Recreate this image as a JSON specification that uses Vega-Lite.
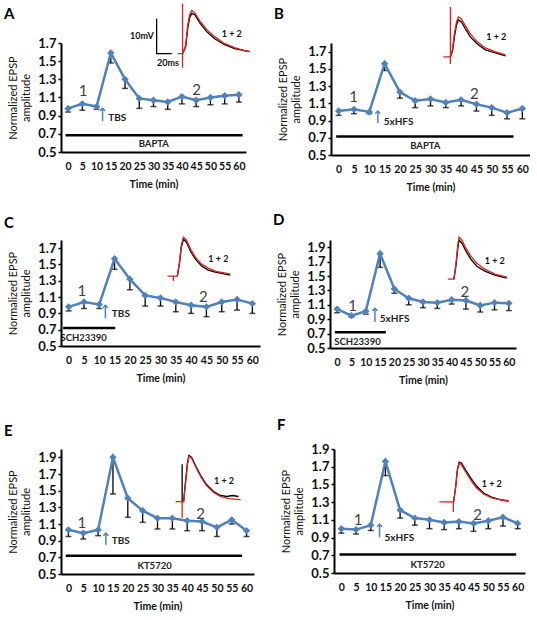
{
"$schema":"https://vega.github.io/schema/vega-lite/v6.json",
"padding":{"left":4,"top":0,"right":0,"bottom":0},
"background":"white",
"datasets":{
"series":[
{"p":"A","t":0,"v":0.98,"lo":0.94},{"p":"A","t":5,"v":1.03,"lo":0.96},{"p":"A","t":10,"v":1.0,"lo":0.97},{"p":"A","t":15,"v":1.59,"lo":1.48},{"p":"A","t":20,"v":1.3,"lo":1.2},{"p":"A","t":25,"v":1.09,"lo":0.98},{"p":"A","t":30,"v":1.07,"lo":1.0},{"p":"A","t":35,"v":1.05,"lo":0.97},{"p":"A","t":40,"v":1.11,"lo":1.03},{"p":"A","t":45,"v":1.07,"lo":1.0},{"p":"A","t":50,"v":1.1,"lo":1.02},{"p":"A","t":55,"v":1.12,"lo":1.03},{"p":"A","t":60,"v":1.13,"lo":1.05},
{"p":"B","t":0,"v":1.01,"lo":0.96},{"p":"B","t":5,"v":1.03,"lo":0.98},{"p":"B","t":10,"v":1.0,"lo":0.98},{"p":"B","t":15,"v":1.56,"lo":1.48},{"p":"B","t":20,"v":1.23,"lo":1.16},{"p":"B","t":25,"v":1.13,"lo":1.05},{"p":"B","t":30,"v":1.15,"lo":1.07},{"p":"B","t":35,"v":1.11,"lo":1.05},{"p":"B","t":40,"v":1.14,"lo":1.07},{"p":"B","t":45,"v":1.09,"lo":1.01},{"p":"B","t":50,"v":1.05,"lo":0.96},{"p":"B","t":55,"v":0.99,"lo":0.92},{"p":"B","t":60,"v":1.04,"lo":0.92},
{"p":"C","t":0,"v":0.98,"lo":0.93},{"p":"C","t":5,"v":1.04,"lo":0.96},{"p":"C","t":10,"v":1.01,"lo":0.96},{"p":"C","t":15,"v":1.57,"lo":1.44},{"p":"C","t":20,"v":1.32,"lo":1.19},{"p":"C","t":25,"v":1.12,"lo":0.99},{"p":"C","t":30,"v":1.09,"lo":0.99},{"p":"C","t":35,"v":1.04,"lo":0.92},{"p":"C","t":40,"v":1.0,"lo":0.9},{"p":"C","t":45,"v":0.98,"lo":0.86},{"p":"C","t":50,"v":1.04,"lo":0.92},{"p":"C","t":55,"v":1.07,"lo":0.94},{"p":"C","t":60,"v":1.02,"lo":0.9},
{"p":"D","t":0,"v":1.04,"lo":0.99},{"p":"D","t":5,"v":0.95,"lo":0.93},{"p":"D","t":10,"v":1.01,"lo":0.97},{"p":"D","t":15,"v":1.81,"lo":1.62},{"p":"D","t":20,"v":1.32,"lo":1.26},{"p":"D","t":25,"v":1.19,"lo":1.1},{"p":"D","t":30,"v":1.14,"lo":1.06},{"p":"D","t":35,"v":1.13,"lo":1.05},{"p":"D","t":40,"v":1.17,"lo":1.11},{"p":"D","t":45,"v":1.16,"lo":1.04},{"p":"D","t":50,"v":1.09,"lo":1.0},{"p":"D","t":55,"v":1.13,"lo":1.03},{"p":"D","t":60,"v":1.12,"lo":1.02},
{"p":"E","t":0,"v":1.03,"lo":0.95},{"p":"E","t":5,"v":0.99,"lo":0.92},{"p":"E","t":10,"v":1.03,"lo":0.96},{"p":"E","t":15,"v":1.9,"lo":1.46},{"p":"E","t":20,"v":1.41,"lo":1.18},{"p":"E","t":25,"v":1.26,"lo":1.12},{"p":"E","t":30,"v":1.17,"lo":1.04},{"p":"E","t":35,"v":1.17,"lo":1.04},{"p":"E","t":40,"v":1.14,"lo":1.02},{"p":"E","t":45,"v":1.13,"lo":1.02},{"p":"E","t":50,"v":1.06,"lo":0.95},{"p":"E","t":55,"v":1.15,"lo":1.1},{"p":"E","t":60,"v":1.02,"lo":0.95},
{"p":"F","t":0,"v":1.0,"lo":0.95},{"p":"F","t":5,"v":0.99,"lo":0.94},{"p":"F","t":10,"v":1.04,"lo":0.98},{"p":"F","t":15,"v":1.76,"lo":1.6},{"p":"F","t":20,"v":1.21,"lo":1.12},{"p":"F","t":25,"v":1.12,"lo":1.04},{"p":"F","t":30,"v":1.1,"lo":1.0},{"p":"F","t":35,"v":1.07,"lo":0.99},{"p":"F","t":40,"v":1.08,"lo":1.0},{"p":"F","t":45,"v":1.06,"lo":0.97},{"p":"F","t":50,"v":1.09,"lo":1.0},{"p":"F","t":55,"v":1.13,"lo":1.03},{"p":"F","t":60,"v":1.06,"lo":1.0}
],
"sweeps":[
{"p":"A","sweep":"1","i":1,"t":40.2,"v":1.582},{"p":"A","sweep":"1","i":2,"t":41.3,"v":1.659},{"p":"A","sweep":"1","i":3,"t":42.0,"v":1.858},{"p":"A","sweep":"1","i":4,"t":42.7,"v":1.979},{"p":"A","sweep":"1","i":5,"t":43.4,"v":2.023},{"p":"A","sweep":"1","i":6,"t":44.5,"v":2.012},{"p":"A","sweep":"1","i":7,"t":46.2,"v":1.924},{"p":"A","sweep":"1","i":8,"t":48.7,"v":1.825},{"p":"A","sweep":"1","i":9,"t":51.5,"v":1.747},{"p":"A","sweep":"1","i":10,"t":55.0,"v":1.681},{"p":"A","sweep":"1","i":11,"t":58.5,"v":1.637},{"p":"A","sweep":"1","i":12,"t":62.0,"v":1.615},{"p":"A","sweep":"1","i":13,"t":63.8,"v":1.604},
{"p":"A","sweep":"2","i":1,"t":38.5,"v":1.582},{"p":"A","sweep":"2","i":2,"t":40.2,"v":1.582},{"p":"A","sweep":"2","i":3,"t":40.2,"v":2.134},{"p":"A","sweep":"2","i":4,"t":40.2,"v":1.427},{"p":"A","sweep":"2","i":5,"t":40.2,"v":1.582},{"p":"A","sweep":"2","i":6,"t":41.3,"v":1.67},{"p":"A","sweep":"2","i":7,"t":42.0,"v":1.891},{"p":"A","sweep":"2","i":8,"t":42.7,"v":2.012},{"p":"A","sweep":"2","i":9,"t":43.4,"v":2.057},{"p":"A","sweep":"2","i":10,"t":44.5,"v":2.034},{"p":"A","sweep":"2","i":11,"t":46.2,"v":1.946},{"p":"A","sweep":"2","i":12,"t":48.7,"v":1.847},{"p":"A","sweep":"2","i":13,"t":51.5,"v":1.77},{"p":"A","sweep":"2","i":14,"t":55.0,"v":1.692},{"p":"A","sweep":"2","i":15,"t":58.5,"v":1.648},{"p":"A","sweep":"2","i":16,"t":62.0,"v":1.615},{"p":"A","sweep":"2","i":17,"t":63.8,"v":1.604},
{"p":"B","sweep":"1","i":1,"t":36.5,"v":1.638},{"p":"B","sweep":"1","i":2,"t":37.2,"v":1.708},{"p":"B","sweep":"1","i":3,"t":37.8,"v":1.871},{"p":"B","sweep":"1","i":4,"t":38.5,"v":2.01},{"p":"B","sweep":"1","i":5,"t":39.1,"v":2.068},{"p":"B","sweep":"1","i":6,"t":40.1,"v":2.045},{"p":"B","sweep":"1","i":7,"t":41.4,"v":1.964},{"p":"B","sweep":"1","i":8,"t":43.0,"v":1.871},{"p":"B","sweep":"1","i":9,"t":45.3,"v":1.789},{"p":"B","sweep":"1","i":10,"t":47.9,"v":1.72},{"p":"B","sweep":"1","i":11,"t":51.2,"v":1.685},{"p":"B","sweep":"1","i":12,"t":54.5,"v":1.65},
{"p":"B","sweep":"2","i":1,"t":34.2,"v":1.638},{"p":"B","sweep":"2","i":2,"t":36.5,"v":1.638},{"p":"B","sweep":"2","i":3,"t":36.5,"v":2.219},{"p":"B","sweep":"2","i":4,"t":36.5,"v":1.557},{"p":"B","sweep":"2","i":5,"t":36.5,"v":1.638},{"p":"B","sweep":"2","i":6,"t":37.2,"v":1.731},{"p":"B","sweep":"2","i":7,"t":37.8,"v":1.906},{"p":"B","sweep":"2","i":8,"t":38.5,"v":2.045},{"p":"B","sweep":"2","i":9,"t":39.1,"v":2.103},{"p":"B","sweep":"2","i":10,"t":40.1,"v":2.08},{"p":"B","sweep":"2","i":11,"t":41.4,"v":1.998},{"p":"B","sweep":"2","i":12,"t":43.0,"v":1.906},{"p":"B","sweep":"2","i":13,"t":45.3,"v":1.813},{"p":"B","sweep":"2","i":14,"t":47.9,"v":1.743},{"p":"B","sweep":"2","i":15,"t":51.2,"v":1.697},{"p":"B","sweep":"2","i":16,"t":54.5,"v":1.662},
{"p":"C","sweep":"1","i":1,"t":35.5,"v":1.357},{"p":"C","sweep":"1","i":2,"t":36.2,"v":1.516},{"p":"C","sweep":"1","i":3,"t":36.8,"v":1.712},{"p":"C","sweep":"1","i":4,"t":37.5,"v":1.81},{"p":"C","sweep":"1","i":5,"t":38.5,"v":1.773},{"p":"C","sweep":"1","i":6,"t":39.8,"v":1.663},{"p":"C","sweep":"1","i":7,"t":41.4,"v":1.565},{"p":"C","sweep":"1","i":8,"t":43.4,"v":1.48},{"p":"C","sweep":"1","i":9,"t":45.6,"v":1.431},{"p":"C","sweep":"1","i":10,"t":47.9,"v":1.406},{"p":"C","sweep":"1","i":11,"t":52.8,"v":1.37},
{"p":"C","sweep":"2","i":1,"t":32.3,"v":1.357},{"p":"C","sweep":"2","i":2,"t":34.2,"v":1.357},{"p":"C","sweep":"2","i":3,"t":34.2,"v":1.296},{"p":"C","sweep":"2","i":4,"t":34.2,"v":1.357},{"p":"C","sweep":"2","i":5,"t":35.5,"v":1.357},{"p":"C","sweep":"2","i":6,"t":36.2,"v":1.529},{"p":"C","sweep":"2","i":7,"t":36.8,"v":1.737},{"p":"C","sweep":"2","i":8,"t":37.5,"v":1.835},{"p":"C","sweep":"2","i":9,"t":38.5,"v":1.798},{"p":"C","sweep":"2","i":10,"t":39.8,"v":1.688},{"p":"C","sweep":"2","i":11,"t":41.4,"v":1.59},{"p":"C","sweep":"2","i":12,"t":43.4,"v":1.504},{"p":"C","sweep":"2","i":13,"t":45.6,"v":1.455},{"p":"C","sweep":"2","i":14,"t":47.9,"v":1.418},{"p":"C","sweep":"2","i":15,"t":52.8,"v":1.382},
{"p":"D","sweep":"1","i":1,"t":40.8,"v":1.456},{"p":"D","sweep":"1","i":2,"t":41.5,"v":1.636},{"p":"D","sweep":"1","i":3,"t":42.2,"v":1.9},{"p":"D","sweep":"1","i":4,"t":42.6,"v":1.997},{"p":"D","sweep":"1","i":5,"t":43.6,"v":1.955},{"p":"D","sweep":"1","i":6,"t":45.0,"v":1.845},{"p":"D","sweep":"1","i":7,"t":46.7,"v":1.734},{"p":"D","sweep":"1","i":8,"t":48.8,"v":1.636},{"p":"D","sweep":"1","i":9,"t":51.6,"v":1.567},{"p":"D","sweep":"1","i":10,"t":55.1,"v":1.512},{"p":"D","sweep":"1","i":11,"t":59.3,"v":1.47},
{"p":"D","sweep":"2","i":1,"t":38.7,"v":1.456},{"p":"D","sweep":"2","i":2,"t":40.8,"v":1.456},{"p":"D","sweep":"2","i":3,"t":41.5,"v":1.664},{"p":"D","sweep":"2","i":4,"t":42.2,"v":1.942},{"p":"D","sweep":"2","i":5,"t":42.6,"v":2.039},{"p":"D","sweep":"2","i":6,"t":43.6,"v":1.997},{"p":"D","sweep":"2","i":7,"t":45.0,"v":1.886},{"p":"D","sweep":"2","i":8,"t":46.7,"v":1.775},{"p":"D","sweep":"2","i":9,"t":48.8,"v":1.678},{"p":"D","sweep":"2","i":10,"t":51.6,"v":1.595},{"p":"D","sweep":"2","i":11,"t":55.1,"v":1.526},{"p":"D","sweep":"2","i":12,"t":59.3,"v":1.484},
{"p":"E","sweep":"1","i":1,"t":38.3,"v":1.369},{"p":"E","sweep":"1","i":2,"t":38.3,"v":1.816},{"p":"E","sweep":"1","i":3,"t":38.3,"v":1.369},{"p":"E","sweep":"1","i":4,"t":38.8,"v":1.369},{"p":"E","sweep":"1","i":5,"t":39.4,"v":1.598},{"p":"E","sweep":"1","i":6,"t":40.1,"v":1.84},{"p":"E","sweep":"1","i":7,"t":40.6,"v":1.924},{"p":"E","sweep":"1","i":8,"t":41.5,"v":1.9},{"p":"E","sweep":"1","i":9,"t":42.8,"v":1.803},{"p":"E","sweep":"1","i":10,"t":44.5,"v":1.683},{"p":"E","sweep":"1","i":11,"t":46.5,"v":1.574},{"p":"E","sweep":"1","i":12,"t":48.9,"v":1.49},{"p":"E","sweep":"1","i":13,"t":51.2,"v":1.442},{"p":"E","sweep":"1","i":14,"t":53.3,"v":1.43},{"p":"E","sweep":"1","i":15,"t":55.3,"v":1.442},{"p":"E","sweep":"1","i":16,"t":57.3,"v":1.43},
{"p":"E","sweep":"2","i":1,"t":36.1,"v":1.369},{"p":"E","sweep":"2","i":2,"t":38.3,"v":1.369},{"p":"E","sweep":"2","i":3,"t":38.3,"v":1.176},{"p":"E","sweep":"2","i":4,"t":38.3,"v":1.369},{"p":"E","sweep":"2","i":5,"t":38.8,"v":1.369},{"p":"E","sweep":"2","i":6,"t":39.4,"v":1.574},{"p":"E","sweep":"2","i":7,"t":40.1,"v":1.816},{"p":"E","sweep":"2","i":8,"t":40.6,"v":1.912},{"p":"E","sweep":"2","i":9,"t":41.5,"v":1.888},{"p":"E","sweep":"2","i":10,"t":42.8,"v":1.791},{"p":"E","sweep":"2","i":11,"t":44.5,"v":1.671},{"p":"E","sweep":"2","i":12,"t":46.5,"v":1.562},{"p":"E","sweep":"2","i":13,"t":48.9,"v":1.478},{"p":"E","sweep":"2","i":14,"t":51.2,"v":1.43},{"p":"E","sweep":"2","i":15,"t":53.9,"v":1.405},{"p":"E","sweep":"2","i":16,"t":58.0,"v":1.393},
{"p":"F","sweep":"1","i":1,"t":38.2,"v":1.302},{"p":"F","sweep":"1","i":2,"t":38.9,"v":1.471},{"p":"F","sweep":"1","i":3,"t":39.5,"v":1.674},{"p":"F","sweep":"1","i":4,"t":40.1,"v":1.753},{"p":"F","sweep":"1","i":5,"t":40.9,"v":1.742},{"p":"F","sweep":"1","i":6,"t":42.3,"v":1.663},{"p":"F","sweep":"1","i":7,"t":44.0,"v":1.573},{"p":"F","sweep":"1","i":8,"t":46.0,"v":1.482},{"p":"F","sweep":"1","i":9,"t":48.4,"v":1.403},{"p":"F","sweep":"1","i":10,"t":51.1,"v":1.358},{"p":"F","sweep":"1","i":11,"t":54.6,"v":1.324},{"p":"F","sweep":"1","i":12,"t":56.9,"v":1.313},
{"p":"F","sweep":"2","i":1,"t":33.4,"v":1.302},{"p":"F","sweep":"2","i":2,"t":38.1,"v":1.302},{"p":"F","sweep":"2","i":3,"t":38.1,"v":1.189},{"p":"F","sweep":"2","i":4,"t":38.1,"v":1.302},{"p":"F","sweep":"2","i":5,"t":38.2,"v":1.302},{"p":"F","sweep":"2","i":6,"t":38.9,"v":1.471},{"p":"F","sweep":"2","i":7,"t":39.5,"v":1.663},{"p":"F","sweep":"2","i":8,"t":40.1,"v":1.742},{"p":"F","sweep":"2","i":9,"t":40.9,"v":1.719},{"p":"F","sweep":"2","i":10,"t":42.3,"v":1.64},{"p":"F","sweep":"2","i":11,"t":44.0,"v":1.55},{"p":"F","sweep":"2","i":12,"t":46.0,"v":1.46},{"p":"F","sweep":"2","i":13,"t":48.4,"v":1.392},{"p":"F","sweep":"2","i":14,"t":51.1,"v":1.347},{"p":"F","sweep":"2","i":15,"t":54.6,"v":1.324},{"p":"F","sweep":"2","i":16,"t":56.9,"v":1.313}
],
"scalebar":[{"p":"A","i":1,"t":31.1,"v":1.968},{"p":"A","i":2,"t":31.1,"v":1.582},{"p":"A","i":3,"t":36.4,"v":1.582}],
"segs":[
{"p":"A","kind":"drug","t":-0.9,"t2":61.3,"v":0.685,"v2":0.685},{"p":"A","kind":"stim","t":12.1,"t2":12.1,"v":0.84,"v2":0.98},
{"p":"B","kind":"drug","t":-0.8,"t2":57.1,"v":0.715,"v2":0.715},{"p":"B","kind":"stim","t":12.8,"t2":12.8,"v":0.87,"v2":1.01},
{"p":"C","kind":"drug","t":-1.8,"t2":15.2,"v":0.72,"v2":0.72},{"p":"C","kind":"stim","t":12.0,"t2":12.0,"v":0.84,"v2":1.0},
{"p":"D","kind":"drug","t":-0.8,"t2":17.0,"v":0.72,"v2":0.72},{"p":"D","kind":"stim","t":13.2,"t2":13.2,"v":0.86,"v2":1.05},
{"p":"E","kind":"drug","t":-0.9,"t2":58.5,"v":0.72,"v2":0.72},{"p":"E","kind":"stim","t":12.6,"t2":12.6,"v":0.85,"v2":0.99},
{"p":"F","kind":"drug","t":-0.6,"t2":59.5,"v":0.71,"v2":0.71},{"p":"F","kind":"stim","t":13.0,"t2":13.0,"v":0.9,"v2":1.05}
],
"notes":[
{"p":"A","kind":"epoch","t":5.3,"v":1.17,"text":"1"},{"p":"A","kind":"epoch","t":45.1,"v":1.18,"text":"2"},{"p":"A","kind":"stim","t":14.1,"v":0.87,"text":"TBS"},{"p":"A","kind":"drug","t":30.1,"v":0.59,"text":"BAPTA"},{"p":"A","kind":"sweeps","t":57.5,"v":1.8,"text":"1 + 2"},{"p":"A","kind":"scale","t":25.9,"v":1.78,"text":"10mV"},{"p":"A","kind":"scale","t":35.1,"v":1.48,"text":"20ms"},
{"p":"B","kind":"epoch","t":4.9,"v":1.17,"text":"1"},{"p":"B","kind":"epoch","t":44.3,"v":1.21,"text":"2"},{"p":"B","kind":"stim","t":14.7,"v":0.88,"text":"5xHFS"},{"p":"B","kind":"drug","t":28.3,"v":0.6,"text":"BAPTA"},{"p":"B","kind":"sweeps","t":51.5,"v":1.871,"text":"1 + 2"},
{"p":"C","kind":"epoch","t":4.3,"v":1.18,"text":"1"},{"p":"C","kind":"epoch","t":44.0,"v":1.1,"text":"2"},{"p":"C","kind":"stim","t":14.1,"v":0.89,"text":"TBS"},{"p":"C","kind":"drug","t":4.9,"v":0.6,"text":"SCH23390"},{"p":"C","kind":"sweeps","t":48.9,"v":1.562,"text":"1 + 2"},
{"p":"D","kind":"epoch","t":5.4,"v":1.09,"text":"1"},{"p":"D","kind":"epoch","t":44.6,"v":1.28,"text":"2"},{"p":"D","kind":"stim","t":14.9,"v":0.9,"text":"5xHFS"},{"p":"D","kind":"drug","t":7.1,"v":0.59,"text":"SCH23390"},{"p":"D","kind":"sweeps","t":55.1,"v":1.715,"text":"1 + 2"},
{"p":"E","kind":"epoch","t":4.5,"v":1.11,"text":"1"},{"p":"E","kind":"epoch","t":44.5,"v":1.22,"text":"2"},{"p":"E","kind":"stim","t":14.6,"v":0.9,"text":"TBS"},{"p":"E","kind":"drug","t":29.0,"v":0.6,"text":"KT5720"},{"p":"E","kind":"sweeps","t":52.4,"v":1.611,"text":"1 + 2"},
{"p":"F","kind":"epoch","t":5.7,"v":1.1,"text":"1"},{"p":"F","kind":"epoch","t":46.4,"v":1.15,"text":"2"},{"p":"F","kind":"stim","t":14.7,"v":0.89,"text":"5xHFS"},{"p":"F","kind":"drug","t":29.4,"v":0.59,"text":"KT5720"},{"p":"F","kind":"sweeps","t":51.2,"v":1.502,"text":"1 + 2"}
]
},
"config":{
"font":"Lato",
"view":{"stroke":null},
"axis":{"domainColor":"#000","domainWidth":2,"labelFont":"Lato","labelFontWeight":"bold","labelColor":"#111","grid":false,"titleFont":"Lato","titleColor":"#111","labelOverlap":false},
"axisX":{"ticks":false,"labelFontSize":10.5,"labelPadding":9,"titleFontSize":10.5,"titleFontWeight":"bold","titlePadding":8,"labelFlush":false},
"axisY":{"tickSize":3,"tickColor":"#000","tickWidth":1.5,"labelFontSize":13,"labelPadding":2,"titleFontSize":11,"titleFontWeight":"normal","titlePadding":6,"titleLineHeight":13},
"title":{"anchor":"start","frame":"group","fontSize":15,"fontWeight":"bold","color":"#000","font":"Lato"}
},
"vconcat":[
{"vconcat":[
{"hconcat":[
{"width":185,"height":109,"title":{"text":"A","dx":-57,"offset":-21},
"encoding":{"x":{"field":"t","type":"quantitative","scale":{"domain":[-2.5,62.5],"nice":false,"zero":false},"axis":{"values":[0,5,10,15,20,25,30,35,40,45,50,55,60],"title":"Time (min)"}},"y":{"field":"v","type":"quantitative","scale":{"domain":[0.5,1.7],"nice":false,"zero":false},"axis":{"values":[0.5,0.7,0.9,1.1,1.3,1.5,1.7],"format":".1f","title":["Normalized EPSP","amplitude"]}}},
"layer":[
{"data":{"name":"segs"},"transform":[{"filter":"datum.p==='A' && datum.kind==='drug'"}],"mark":{"type":"rule","color":"#000","strokeWidth":2.5},"encoding":{"x2":{"field":"t2"}}},
{"data":{"name":"notes"},"transform":[{"filter":"datum.p==='A' && datum.kind==='drug'"}],"mark":{"type":"text","fontSize":9.5,"fontWeight":"bold","color":"#222"},"encoding":{"text":{"field":"text"}}},
{"data":{"name":"series"},"transform":[{"filter":"datum.p==='A'"}],"mark":{"type":"rule","color":"#000","strokeWidth":1.3},"encoding":{"y2":{"field":"lo"}}},
{"data":{"name":"series"},"transform":[{"filter":"datum.p==='A'"}],"mark":{"type":"tick","orient":"horizontal","color":"#000","size":6,"thickness":1.5},"encoding":{"y":{"field":"lo","type":"quantitative"}}},
{"data":{"name":"series"},"transform":[{"filter":"datum.p==='A'"}],"mark":{"type":"line","color":"#4F81BD","strokeWidth":2.5},"encoding":{}},
{"data":{"name":"series"},"transform":[{"filter":"datum.p==='A'"}],"mark":{"type":"point","shape":"diamond","filled":true,"size":55,"color":"#4F81BD","opacity":1},"encoding":{}},
{"data":{"name":"notes"},"transform":[{"filter":"datum.p==='A' && datum.kind==='epoch'"}],"mark":{"type":"text","fontSize":15,"color":"#404040"},"encoding":{"text":{"field":"text"}}},
{"data":{"name":"segs"},"transform":[{"filter":"datum.p==='A' && datum.kind==='stim'"}],"mark":{"type":"rule","color":"#4F81BD","strokeWidth":1.5},"encoding":{"y2":{"field":"v2"}}},
{"data":{"name":"segs"},"transform":[{"filter":"datum.p==='A' && datum.kind==='stim'"}],"mark":{"type":"point","shape":"M-1,1L0,0L1,1","filled":false,"size":25,"color":"#4F81BD","strokeWidth":1.5,"opacity":1},"encoding":{"y":{"field":"v2","type":"quantitative"}}},
{"data":{"name":"notes"},"transform":[{"filter":"datum.p==='A' && datum.kind==='stim'"}],"mark":{"type":"text","align":"left","fontSize":10,"fontWeight":"bold","color":"#222"},"encoding":{"text":{"field":"text"}}},
{"data":{"name":"sweeps"},"transform":[{"filter":"datum.p==='A' && datum.sweep==='1'"}],"mark":{"type":"line","color":"#000","strokeWidth":1.3},"encoding":{"order":{"field":"i","type":"quantitative"}}},
{"data":{"name":"sweeps"},"transform":[{"filter":"datum.p==='A' && datum.sweep==='2'"}],"mark":{"type":"line","color":"#E0201B","strokeWidth":1.3},"encoding":{"order":{"field":"i","type":"quantitative"}}},
{"data":{"name":"scalebar"},"transform":[{"filter":"datum.p==='A'"}],"mark":{"type":"line","color":"#000","strokeWidth":1.3},"encoding":{"order":{"field":"i","type":"quantitative"}}},
{"data":{"name":"notes"},"transform":[{"filter":"datum.p==='A' && (datum.kind==='sweeps' || datum.kind==='scale')"}],"mark":{"type":"text","fontSize":9,"fontWeight":"bold","color":"#111"},"encoding":{"text":{"field":"text"}}}
]},
{"width":199,"height":112,"title":{"text":"B","dx":-57,"offset":-18},
"encoding":{"x":{"field":"t","type":"quantitative","scale":{"domain":[-2.5,62.5],"nice":false,"zero":false},"axis":{"values":[0,5,10,15,20,25,30,35,40,45,50,55,60],"title":"Time (min)"}},"y":{"field":"v","type":"quantitative","scale":{"domain":[0.5,1.8],"nice":false,"zero":false},"axis":{"values":[0.5,0.7,0.9,1.1,1.3,1.5,1.7],"format":".1f","title":["Normalized EPSP","amplitude"]}}},
"layer":[
{"data":{"name":"segs"},"transform":[{"filter":"datum.p==='B' && datum.kind==='drug'"}],"mark":{"type":"rule","color":"#000","strokeWidth":2.5},"encoding":{"x2":{"field":"t2"}}},
{"data":{"name":"notes"},"transform":[{"filter":"datum.p==='B' && datum.kind==='drug'"}],"mark":{"type":"text","fontSize":9.5,"fontWeight":"bold","color":"#222"},"encoding":{"text":{"field":"text"}}},
{"data":{"name":"series"},"transform":[{"filter":"datum.p==='B'"}],"mark":{"type":"rule","color":"#000","strokeWidth":1.3},"encoding":{"y2":{"field":"lo"}}},
{"data":{"name":"series"},"transform":[{"filter":"datum.p==='B'"}],"mark":{"type":"tick","orient":"horizontal","color":"#000","size":6,"thickness":1.5},"encoding":{"y":{"field":"lo","type":"quantitative"}}},
{"data":{"name":"series"},"transform":[{"filter":"datum.p==='B'"}],"mark":{"type":"line","color":"#4F81BD","strokeWidth":2.5},"encoding":{}},
{"data":{"name":"series"},"transform":[{"filter":"datum.p==='B'"}],"mark":{"type":"point","shape":"diamond","filled":true,"size":55,"color":"#4F81BD","opacity":1},"encoding":{}},
{"data":{"name":"notes"},"transform":[{"filter":"datum.p==='B' && datum.kind==='epoch'"}],"mark":{"type":"text","fontSize":15,"color":"#404040"},"encoding":{"text":{"field":"text"}}},
{"data":{"name":"segs"},"transform":[{"filter":"datum.p==='B' && datum.kind==='stim'"}],"mark":{"type":"rule","color":"#4F81BD","strokeWidth":1.5},"encoding":{"y2":{"field":"v2"}}},
{"data":{"name":"segs"},"transform":[{"filter":"datum.p==='B' && datum.kind==='stim'"}],"mark":{"type":"point","shape":"M-1,1L0,0L1,1","filled":false,"size":25,"color":"#4F81BD","strokeWidth":1.5,"opacity":1},"encoding":{"y":{"field":"v2","type":"quantitative"}}},
{"data":{"name":"notes"},"transform":[{"filter":"datum.p==='B' && datum.kind==='stim'"}],"mark":{"type":"text","align":"left","fontSize":10,"fontWeight":"bold","color":"#222"},"encoding":{"text":{"field":"text"}}},
{"data":{"name":"sweeps"},"transform":[{"filter":"datum.p==='B' && datum.sweep==='1'"}],"mark":{"type":"line","color":"#000","strokeWidth":1.3},"encoding":{"order":{"field":"i","type":"quantitative"}}},
{"data":{"name":"sweeps"},"transform":[{"filter":"datum.p==='B' && datum.sweep==='2'"}],"mark":{"type":"line","color":"#E0201B","strokeWidth":1.3},"encoding":{"order":{"field":"i","type":"quantitative"}}},
{"data":{"name":"notes"},"transform":[{"filter":"datum.p==='B' && datum.kind==='sweeps'"}],"mark":{"type":"text","fontSize":9,"fontWeight":"bold","color":"#111"},"encoding":{"text":{"field":"text"}}}
]}
],"spacing":21,"resolve":{"scale":{"x":"independent","y":"independent"}}},
{"hconcat":[
{"width":199,"height":106,"title":{"text":"C","dx":-57,"offset":4},
"encoding":{"x":{"field":"t","type":"quantitative","scale":{"domain":[-2.5,62.5],"nice":false,"zero":false},"axis":{"values":[0,5,10,15,20,25,30,35,40,45,50,55,60],"title":"Time (min)"}},"y":{"field":"v","type":"quantitative","scale":{"domain":[0.5,1.8],"nice":false,"zero":false},"axis":{"values":[0.5,0.7,0.9,1.1,1.3,1.5,1.7],"format":".1f","title":["Normalized EPSP","amplitude"]}}},
"layer":[
{"data":{"name":"segs"},"transform":[{"filter":"datum.p==='C' && datum.kind==='drug'"}],"mark":{"type":"rule","color":"#000","strokeWidth":2.5},"encoding":{"x2":{"field":"t2"}}},
{"data":{"name":"notes"},"transform":[{"filter":"datum.p==='C' && datum.kind==='drug'"}],"mark":{"type":"text","fontSize":9.5,"fontWeight":"bold","color":"#222"},"encoding":{"text":{"field":"text"}}},
{"data":{"name":"series"},"transform":[{"filter":"datum.p==='C'"}],"mark":{"type":"rule","color":"#000","strokeWidth":1.3},"encoding":{"y2":{"field":"lo"}}},
{"data":{"name":"series"},"transform":[{"filter":"datum.p==='C'"}],"mark":{"type":"tick","orient":"horizontal","color":"#000","size":6,"thickness":1.5},"encoding":{"y":{"field":"lo","type":"quantitative"}}},
{"data":{"name":"series"},"transform":[{"filter":"datum.p==='C'"}],"mark":{"type":"line","color":"#4F81BD","strokeWidth":2.5},"encoding":{}},
{"data":{"name":"series"},"transform":[{"filter":"datum.p==='C'"}],"mark":{"type":"point","shape":"diamond","filled":true,"size":55,"color":"#4F81BD","opacity":1},"encoding":{}},
{"data":{"name":"notes"},"transform":[{"filter":"datum.p==='C' && datum.kind==='epoch'"}],"mark":{"type":"text","fontSize":15,"color":"#404040"},"encoding":{"text":{"field":"text"}}},
{"data":{"name":"segs"},"transform":[{"filter":"datum.p==='C' && datum.kind==='stim'"}],"mark":{"type":"rule","color":"#4F81BD","strokeWidth":1.5},"encoding":{"y2":{"field":"v2"}}},
{"data":{"name":"segs"},"transform":[{"filter":"datum.p==='C' && datum.kind==='stim'"}],"mark":{"type":"point","shape":"M-1,1L0,0L1,1","filled":false,"size":25,"color":"#4F81BD","strokeWidth":1.5,"opacity":1},"encoding":{"y":{"field":"v2","type":"quantitative"}}},
{"data":{"name":"notes"},"transform":[{"filter":"datum.p==='C' && datum.kind==='stim'"}],"mark":{"type":"text","align":"left","fontSize":10,"fontWeight":"bold","color":"#222"},"encoding":{"text":{"field":"text"}}},
{"data":{"name":"sweeps"},"transform":[{"filter":"datum.p==='C' && datum.sweep==='1'"}],"mark":{"type":"line","color":"#000","strokeWidth":1.3},"encoding":{"order":{"field":"i","type":"quantitative"}}},
{"data":{"name":"sweeps"},"transform":[{"filter":"datum.p==='C' && datum.sweep==='2'"}],"mark":{"type":"line","color":"#E0201B","strokeWidth":1.3},"encoding":{"order":{"field":"i","type":"quantitative"}}},
{"data":{"name":"notes"},"transform":[{"filter":"datum.p==='C' && datum.kind==='sweeps'"}],"mark":{"type":"text","fontSize":9,"fontWeight":"bold","color":"#111"},"encoding":{"text":{"field":"text"}}}
]},
{"width":186,"height":108,"title":{"text":"D","dx":-57,"offset":7},
"encoding":{"x":{"field":"t","type":"quantitative","scale":{"domain":[-2.5,62.5],"nice":false,"zero":false},"axis":{"values":[0,5,10,15,20,25,30,35,40,45,50,55,60],"title":"Time (min)"}},"y":{"field":"v","type":"quantitative","scale":{"domain":[0.5,2.0],"nice":false,"zero":false},"axis":{"values":[0.5,0.7,0.9,1.1,1.3,1.5,1.7,1.9],"format":".1f","title":["Normalized EPSP","amplitude"]}}},
"layer":[
{"data":{"name":"segs"},"transform":[{"filter":"datum.p==='D' && datum.kind==='drug'"}],"mark":{"type":"rule","color":"#000","strokeWidth":2.5},"encoding":{"x2":{"field":"t2"}}},
{"data":{"name":"notes"},"transform":[{"filter":"datum.p==='D' && datum.kind==='drug'"}],"mark":{"type":"text","fontSize":9.5,"fontWeight":"bold","color":"#222"},"encoding":{"text":{"field":"text"}}},
{"data":{"name":"series"},"transform":[{"filter":"datum.p==='D'"}],"mark":{"type":"rule","color":"#000","strokeWidth":1.3},"encoding":{"y2":{"field":"lo"}}},
{"data":{"name":"series"},"transform":[{"filter":"datum.p==='D'"}],"mark":{"type":"tick","orient":"horizontal","color":"#000","size":6,"thickness":1.5},"encoding":{"y":{"field":"lo","type":"quantitative"}}},
{"data":{"name":"series"},"transform":[{"filter":"datum.p==='D'"}],"mark":{"type":"line","color":"#4F81BD","strokeWidth":2.5},"encoding":{}},
{"data":{"name":"series"},"transform":[{"filter":"datum.p==='D'"}],"mark":{"type":"point","shape":"diamond","filled":true,"size":55,"color":"#4F81BD","opacity":1},"encoding":{}},
{"data":{"name":"notes"},"transform":[{"filter":"datum.p==='D' && datum.kind==='epoch'"}],"mark":{"type":"text","fontSize":15,"color":"#404040"},"encoding":{"text":{"field":"text"}}},
{"data":{"name":"segs"},"transform":[{"filter":"datum.p==='D' && datum.kind==='stim'"}],"mark":{"type":"rule","color":"#4F81BD","strokeWidth":1.5},"encoding":{"y2":{"field":"v2"}}},
{"data":{"name":"segs"},"transform":[{"filter":"datum.p==='D' && datum.kind==='stim'"}],"mark":{"type":"point","shape":"M-1,1L0,0L1,1","filled":false,"size":25,"color":"#4F81BD","strokeWidth":1.5,"opacity":1},"encoding":{"y":{"field":"v2","type":"quantitative"}}},
{"data":{"name":"notes"},"transform":[{"filter":"datum.p==='D' && datum.kind==='stim'"}],"mark":{"type":"text","align":"left","fontSize":10,"fontWeight":"bold","color":"#222"},"encoding":{"text":{"field":"text"}}},
{"data":{"name":"sweeps"},"transform":[{"filter":"datum.p==='D' && datum.sweep==='1'"}],"mark":{"type":"line","color":"#000","strokeWidth":1.3},"encoding":{"order":{"field":"i","type":"quantitative"}}},
{"data":{"name":"sweeps"},"transform":[{"filter":"datum.p==='D' && datum.sweep==='2'"}],"mark":{"type":"line","color":"#E0201B","strokeWidth":1.3},"encoding":{"order":{"field":"i","type":"quantitative"}}},
{"data":{"name":"notes"},"transform":[{"filter":"datum.p==='D' && datum.kind==='sweeps'"}],"mark":{"type":"text","fontSize":9,"fontWeight":"bold","color":"#111"},"encoding":{"text":{"field":"text"}}}
]}
],"spacing":13,"resolve":{"scale":{"x":"independent","y":"independent"}}}
],"spacing":19,"resolve":{"scale":{"x":"independent","y":"independent"}}},
{"hconcat":[
{"width":193,"height":125,"title":{"text":"E","dx":-57,"offset":10},
"encoding":{"x":{"field":"t","type":"quantitative","scale":{"domain":[-2.5,62.5],"nice":false,"zero":false},"axis":{"values":[0,5,10,15,20,25,30,35,40,45,50,55,60],"title":"Time (min)"}},"y":{"field":"v","type":"quantitative","scale":{"domain":[0.5,2.0],"nice":false,"zero":false},"axis":{"values":[0.5,0.7,0.9,1.1,1.3,1.5,1.7,1.9],"format":".1f","title":["Normalized EPSP","amplitude"]}}},
"layer":[
{"data":{"name":"segs"},"transform":[{"filter":"datum.p==='E' && datum.kind==='drug'"}],"mark":{"type":"rule","color":"#000","strokeWidth":2.5},"encoding":{"x2":{"field":"t2"}}},
{"data":{"name":"notes"},"transform":[{"filter":"datum.p==='E' && datum.kind==='drug'"}],"mark":{"type":"text","fontSize":9.5,"fontWeight":"bold","color":"#222"},"encoding":{"text":{"field":"text"}}},
{"data":{"name":"series"},"transform":[{"filter":"datum.p==='E'"}],"mark":{"type":"rule","color":"#000","strokeWidth":1.3},"encoding":{"y2":{"field":"lo"}}},
{"data":{"name":"series"},"transform":[{"filter":"datum.p==='E'"}],"mark":{"type":"tick","orient":"horizontal","color":"#000","size":6,"thickness":1.5},"encoding":{"y":{"field":"lo","type":"quantitative"}}},
{"data":{"name":"series"},"transform":[{"filter":"datum.p==='E'"}],"mark":{"type":"line","color":"#4F81BD","strokeWidth":2.5},"encoding":{}},
{"data":{"name":"series"},"transform":[{"filter":"datum.p==='E'"}],"mark":{"type":"point","shape":"diamond","filled":true,"size":55,"color":"#4F81BD","opacity":1},"encoding":{}},
{"data":{"name":"notes"},"transform":[{"filter":"datum.p==='E' && datum.kind==='epoch'"}],"mark":{"type":"text","fontSize":15,"color":"#404040"},"encoding":{"text":{"field":"text"}}},
{"data":{"name":"segs"},"transform":[{"filter":"datum.p==='E' && datum.kind==='stim'"}],"mark":{"type":"rule","color":"#4F81BD","strokeWidth":1.5},"encoding":{"y2":{"field":"v2"}}},
{"data":{"name":"segs"},"transform":[{"filter":"datum.p==='E' && datum.kind==='stim'"}],"mark":{"type":"point","shape":"M-1,1L0,0L1,1","filled":false,"size":25,"color":"#4F81BD","strokeWidth":1.5,"opacity":1},"encoding":{"y":{"field":"v2","type":"quantitative"}}},
{"data":{"name":"notes"},"transform":[{"filter":"datum.p==='E' && datum.kind==='stim'"}],"mark":{"type":"text","align":"left","fontSize":10,"fontWeight":"bold","color":"#222"},"encoding":{"text":{"field":"text"}}},
{"data":{"name":"sweeps"},"transform":[{"filter":"datum.p==='E' && datum.sweep==='1'"}],"mark":{"type":"line","color":"#000","strokeWidth":1.3},"encoding":{"order":{"field":"i","type":"quantitative"}}},
{"data":{"name":"sweeps"},"transform":[{"filter":"datum.p==='E' && datum.sweep==='2'"}],"mark":{"type":"line","color":"#E0201B","strokeWidth":1.3},"encoding":{"order":{"field":"i","type":"quantitative"}}},
{"data":{"name":"notes"},"transform":[{"filter":"datum.p==='E' && datum.kind==='sweeps'"}],"mark":{"type":"text","fontSize":9,"fontWeight":"bold","color":"#111"},"encoding":{"text":{"field":"text"}}}
]},
{"width":191,"height":124,"title":{"text":"F","dx":-57,"offset":10},
"encoding":{"x":{"field":"t","type":"quantitative","scale":{"domain":[-2.5,62.5],"nice":false,"zero":false},"axis":{"values":[0,5,10,15,20,25,30,35,40,45,50,55,60],"title":"Time (min)"}},"y":{"field":"v","type":"quantitative","scale":{"domain":[0.5,1.9],"nice":false,"zero":false},"axis":{"values":[0.5,0.7,0.9,1.1,1.3,1.5,1.7,1.9],"format":".1f","title":["Normalized EPSP","amplitude"]}}},
"layer":[
{"data":{"name":"segs"},"transform":[{"filter":"datum.p==='F' && datum.kind==='drug'"}],"mark":{"type":"rule","color":"#000","strokeWidth":2.5},"encoding":{"x2":{"field":"t2"}}},
{"data":{"name":"notes"},"transform":[{"filter":"datum.p==='F' && datum.kind==='drug'"}],"mark":{"type":"text","fontSize":9.5,"fontWeight":"bold","color":"#222"},"encoding":{"text":{"field":"text"}}},
{"data":{"name":"series"},"transform":[{"filter":"datum.p==='F'"}],"mark":{"type":"rule","color":"#000","strokeWidth":1.3},"encoding":{"y2":{"field":"lo"}}},
{"data":{"name":"series"},"transform":[{"filter":"datum.p==='F'"}],"mark":{"type":"tick","orient":"horizontal","color":"#000","size":6,"thickness":1.5},"encoding":{"y":{"field":"lo","type":"quantitative"}}},
{"data":{"name":"series"},"transform":[{"filter":"datum.p==='F'"}],"mark":{"type":"line","color":"#4F81BD","strokeWidth":2.5},"encoding":{}},
{"data":{"name":"series"},"transform":[{"filter":"datum.p==='F'"}],"mark":{"type":"point","shape":"diamond","filled":true,"size":55,"color":"#4F81BD","opacity":1},"encoding":{}},
{"data":{"name":"notes"},"transform":[{"filter":"datum.p==='F' && datum.kind==='epoch'"}],"mark":{"type":"text","fontSize":15,"color":"#404040"},"encoding":{"text":{"field":"text"}}},
{"data":{"name":"segs"},"transform":[{"filter":"datum.p==='F' && datum.kind==='stim'"}],"mark":{"type":"rule","color":"#4F81BD","strokeWidth":1.5},"encoding":{"y2":{"field":"v2"}}},
{"data":{"name":"segs"},"transform":[{"filter":"datum.p==='F' && datum.kind==='stim'"}],"mark":{"type":"point","shape":"M-1,1L0,0L1,1","filled":false,"size":25,"color":"#4F81BD","strokeWidth":1.5,"opacity":1},"encoding":{"y":{"field":"v2","type":"quantitative"}}},
{"data":{"name":"notes"},"transform":[{"filter":"datum.p==='F' && datum.kind==='stim'"}],"mark":{"type":"text","align":"left","fontSize":10,"fontWeight":"bold","color":"#222"},"encoding":{"text":{"field":"text"}}},
{"data":{"name":"sweeps"},"transform":[{"filter":"datum.p==='F' && datum.sweep==='1'"}],"mark":{"type":"line","color":"#000","strokeWidth":1.3},"encoding":{"order":{"field":"i","type":"quantitative"}}},
{"data":{"name":"sweeps"},"transform":[{"filter":"datum.p==='F' && datum.sweep==='2'"}],"mark":{"type":"line","color":"#E0201B","strokeWidth":1.3},"encoding":{"order":{"field":"i","type":"quantitative"}}},
{"data":{"name":"notes"},"transform":[{"filter":"datum.p==='F' && datum.kind==='sweeps'"}],"mark":{"type":"text","fontSize":9,"fontWeight":"bold","color":"#111"},"encoding":{"text":{"field":"text"}}}
]}
],"spacing":23,"resolve":{"scale":{"x":"independent","y":"independent"}}}
],
"spacing":32,
"resolve":{"scale":{"x":"independent","y":"independent"}}
}
